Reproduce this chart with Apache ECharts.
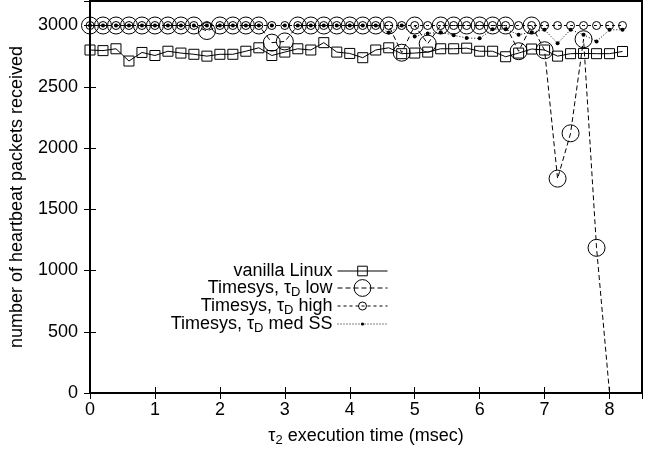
<!DOCTYPE html>
<html>
<head>
<meta charset="utf-8">
<script src="https://cdn.jsdelivr.net/npm/echarts@6/dist/echarts.min.js"></script>
<style>
  html, body { margin: 0; padding: 0; background: #fff; }
  #main { width: 652px; height: 452px; }
</style>
</head>
<body>
<div id="main"></div>
<script>
var xs = [0, 0.2, 0.4, 0.6, 0.8, 1.0, 1.2, 1.4, 1.6, 1.8, 2.0, 2.2, 2.4, 2.6, 2.8, 3.0, 3.2, 3.4, 3.6, 3.8, 4.0,
          4.2, 4.4, 4.6, 4.8, 5.0, 5.2, 5.4, 5.6, 5.8, 6.0, 6.2, 6.4, 6.6, 6.8, 7.0, 7.2, 7.4, 7.6, 7.8, 8.0, 8.2];

var vanilla = [2800, 2795, 2810, 2710, 2780, 2755, 2790, 2775, 2765, 2750, 2765, 2765, 2790, 2818, 2755, 2783,
               2810, 2800, 2860, 2783, 2772, 2737, 2800, 2818, 2770, 2775, 2783, 2810, 2810, 2815, 2790, 2790,
               2745, 2775, 2808, 2800, 2750, 2770, 2772, 2770, 2770, 2788];

var low = [3000, 3000, 3000, 3000, 3000, 3000, 3000, 3000, 3000, 2955, 3000, 3000, 3000, 3000, 2860, 2870,
           3000, 3000, 3000, 3000, 3000, 3000, 3000, 3000, 2778, 3000, 2852, 3000, 3000, 3000, 3000, 3000,
           3000, 2790, 3000, 2798, 1750, 2120, 2888, 1185, 0];

var high = [3000, 3000, 3000, 3000, 3000, 3000, 3000, 3000, 3000, 3000, 3000, 3000, 3000, 3000, 3000, 3000,
            3000, 3000, 3000, 3000, 3000, 3000, 3000, 3000, 3000, 3000, 3000, 3000, 3000, 3000, 3000, 3000,
            3000, 3000, 3000, 3000, 3000, 3000, 3000, 3000, 3000, 3000];

var medSS = [3000, 3000, 3000, 3000, 3000, 3000, 3000, 3000, 3000, 3000, 3000, 3000, 3000, 3000, 3000, 3000,
             3000, 3000, 3000, 3000, 3000, 3000, 3000, 2942, 3000, 2910, 2935, 2945, 2920, 2898, 2895, 2970,
             2970, 2925, 2945, 2965, 2855, 2965, 2925, 2870, 2965, 2965];

var names = ['vanilla Linux', 'Timesys, τD low', 'Timesys, τD high', 'Timesys, τD med SS'];

var FONT = 'Liberation Sans, Arial, Helvetica, sans-serif';

function pairs(ys) {
  return ys.map(function (v, i) { return [xs[i], v]; });
}

var lowData = pairs(low);
// last point sits on the bottom border, gnuplot drops its marker
lowData[lowData.length - 1] = { value: lowData[lowData.length - 1], symbol: 'none' };

var rich = {
  t: { fontSize: 18, fontFamily: FONT, color: '#000', lineHeight: 20 },
  s: { fontSize: 13, fontFamily: FONT, color: '#000', lineHeight: 13, padding: [9, 0, 0, 0] }
};

function legendFor(name, h, top, line, item) {
  return {
    orient: 'vertical',
    right: 264,
    top: top,
    padding: 0,
    align: 'right',
    itemWidth: 50,
    itemHeight: h,
    itemGap: 0,
    selectedMode: false,
    data: [name],
    lineStyle: line,
    itemStyle: item,
    formatter: function (n) { return n.replace('τD', '{t|τ}{s|D}'); },
    textStyle: { fontSize: 18, fontFamily: FONT, color: '#000', lineHeight: 20, rich: rich }
  };
}

var myChart = echarts.init(document.getElementById('main'));
var option = {
  animation: false,
  backgroundColor: '#fff',
  grid: {
    left: 90,
    right: 10,
    top: 1,
    bottom: 58.5,
    show: true,
    borderColor: '#000',
    borderWidth: 2
  },
  legend: [
    legendFor(names[0], 12, 261, { color: '#000', width: 1, type: 'solid' },
      { color: 'transparent', borderColor: '#000', borderWidth: 1 }),
    legendFor(names[1], 21, 277, { color: '#000', width: 1, type: [5, 3] },
      { color: 'transparent', borderColor: '#000', borderWidth: 1 }),
    legendFor(names[2], 10, 295, { color: '#000', width: 1, type: [3, 3] },
      { color: 'transparent', borderColor: '#000', borderWidth: 1 }),
    legendFor(names[3], 4, 313, { color: '#000', width: 1, type: [1, 2] },
      { color: '#000', borderWidth: 0 })
  ],
  xAxis: [{
    type: 'value',
    min: 0,
    max: 8.5,
    interval: 1,
    name: '{t|τ}{s|2} execution time (msec)',
    nameLocation: 'middle',
    nameGap: 33,
    nameTextStyle: { fontSize: 18, fontFamily: FONT, color: '#000', rich: rich },
    axisLine: { lineStyle: { color: '#000', width: 2 } },
    axisTick: { inside: true, length: 6, lineStyle: { color: '#000', width: 1 } },
    axisLabel: { fontSize: 18, fontFamily: FONT, color: '#000', margin: 8, showMaxLabel: false },
    splitLine: { show: false }
  }, {
    type: 'value',
    position: 'top',
    min: 0,
    max: 8.5,
    interval: 1,
    axisLine: { show: false },
    axisTick: { inside: true, length: 6, lineStyle: { color: '#000', width: 1 } },
    axisLabel: { show: false },
    splitLine: { show: false }
  }],
  yAxis: [{
    type: 'value',
    min: 0,
    max: 3200,
    interval: 500,
    name: 'number of heartbeat packets received',
    nameLocation: 'middle',
    nameGap: 64,
    nameTextStyle: { fontSize: 18, fontFamily: FONT, color: '#000' },
    axisLine: { show: true, lineStyle: { color: '#000', width: 2 } },
    axisTick: { show: true, inside: true, length: 6, lineStyle: { color: '#000', width: 1 } },
    axisLabel: {
      fontSize: 18, fontFamily: FONT, color: '#000', margin: 12, showMaxLabel: false,
      formatter: function (v) { return String(v); }
    },
    splitLine: { show: false }
  }, {
    type: 'value',
    position: 'right',
    min: 0,
    max: 3200,
    interval: 500,
    axisLine: { show: false },
    axisTick: { show: true, inside: true, length: 6, lineStyle: { color: '#000', width: 1 } },
    axisLabel: { show: false },
    splitLine: { show: false }
  }],
  series: [
    {
      name: names[0],
      type: 'line',
      data: pairs(vanilla),
      symbol: 'rect',
      symbolSize: 10,
      lineStyle: { color: '#000', width: 1 },
      itemStyle: { color: 'transparent', borderColor: '#000', borderWidth: 1 },
      emphasis: { disabled: true },
      z: 2
    },
    {
      name: names[1],
      type: 'line',
      data: lowData,
      symbol: 'circle',
      symbolSize: 17,
      lineStyle: { color: '#000', width: 1, type: [5, 3] },
      itemStyle: { color: 'transparent', borderColor: '#000', borderWidth: 1 },
      emphasis: { disabled: true },
      z: 3
    },
    {
      name: names[2],
      type: 'line',
      data: pairs(high),
      symbol: 'circle',
      symbolSize: 8,
      lineStyle: { color: '#000', width: 1, type: [3, 3] },
      itemStyle: { color: 'transparent', borderColor: '#000', borderWidth: 1 },
      emphasis: { disabled: true },
      z: 4
    },
    {
      name: names[3],
      type: 'line',
      data: pairs(medSS),
      symbol: 'circle',
      symbolSize: 4,
      lineStyle: { color: '#000', width: 1, type: [1, 2] },
      itemStyle: { color: '#000' },
      emphasis: { disabled: true },
      z: 5
    }
  ]
};
myChart.setOption(option);
</script>
</body>
</html>
